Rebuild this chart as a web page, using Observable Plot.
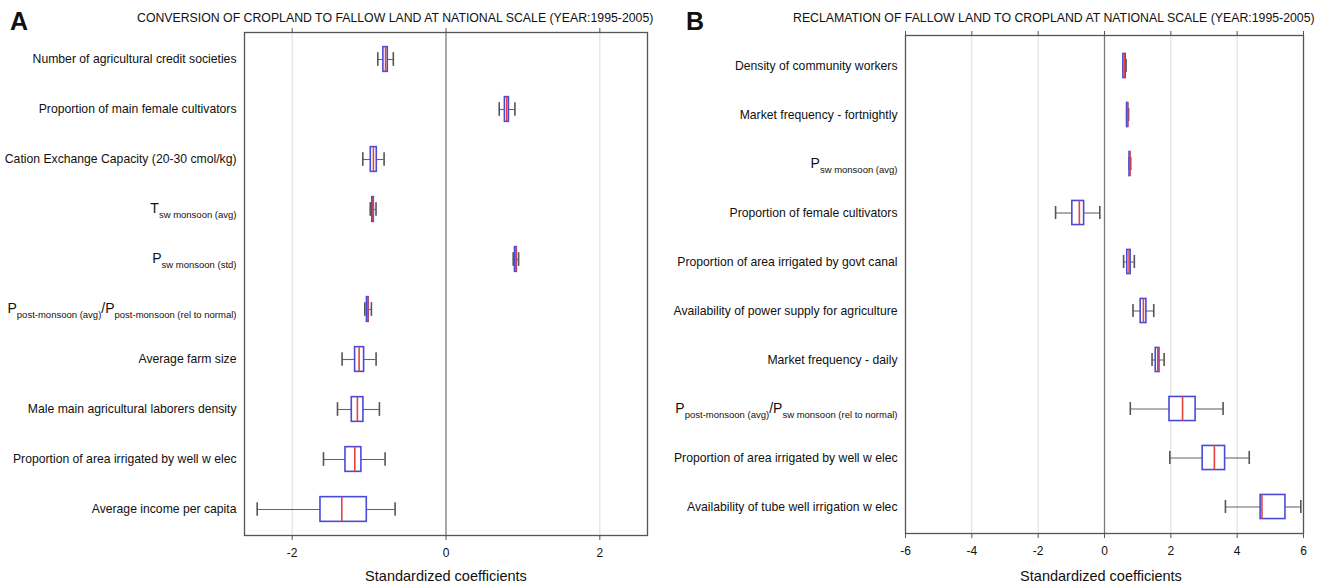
<!DOCTYPE html>
<html>
<head>
<meta charset="utf-8">
<script src="https://cdn.jsdelivr.net/npm/d3@7"></script>
<script src="https://cdn.jsdelivr.net/npm/@observablehq/plot@0.6"></script>
<style>
  html, body { margin: 0; padding: 0; background: #fff; }
  #wrap { position: relative; width: 1320px; height: 588px; font-family: "Liberation Sans", Arial, sans-serif; color: #111; overflow: hidden; }
  .panel { position: absolute; top: 0; }
  .letter { position: absolute; font-weight: bold; font-size: 25px; line-height: 1; }
  .title { position: absolute; font-size: 12.3px; line-height: 1; white-space: nowrap; }
  .xlab { position: absolute; font-size: 14.5px; line-height: 1; white-space: nowrap; transform: translateX(-50%); }
</style>
</head>
<body>
<div id="wrap"></div>
<script>
// ---------- Panel A data ----------
const rowsA = [
  "Number of agricultural credit societies",
  "Proportion of main female cultivators",
  "Cation Exchange Capacity (20-30 cmol/kg)",
  "T_{sw monsoon (avg)}",
  "P_{sw monsoon (std)}",
  "P_{post-monsoon (avg)}/P_{post-monsoon (rel to normal)}",
  "Average farm size",
  "Male main agricultural laborers density",
  "Proportion of area irrigated by well w elec",
  "Average income per capita"
];
const loA  = [-0.887, 0.692, -1.082, -0.985, 0.874, -1.056, -1.351, -1.411, -1.593, -2.455];
const q1A  = [-0.814, 0.766, -0.978, -0.958, 0.897, -1.028, -1.182, -1.225, -1.307, -1.632];
const medA = [-0.786, 0.790, -0.944, -0.948, 0.909, -1.017, -1.130, -1.152, -1.186, -1.355];
const q3A  = [-0.757, 0.818, -0.900, -0.938, 0.921, -1.006, -1.065, -1.074, -1.100, -1.030];
const hiA  = [-0.685, 0.896, -0.805, -0.910, 0.944, -0.970, -0.909, -0.866, -0.792, -0.662];
const ticksA = [-2, 0, 2];

// ---------- Panel B data ----------
const rowsB = [
  "Density of community workers",
  "Market frequency - fortnightly",
  "P_{sw monsoon (avg)}",
  "Proportion of female cultivators",
  "Proportion of area irrigated by govt canal",
  "Availability of power supply for agriculture",
  "Market frequency - daily",
  "P_{post-monsoon (avg)}/P_{sw monsoon (rel to normal)}",
  "Proportion of area irrigated by well w elec",
  "Availability of tube well irrigation w elec"
];
const loB  = [0.56, 0.67, 0.745, -1.475, 0.576, 0.859, 1.434, 0.778, 1.970, 3.646];
const q1B  = [0.57, 0.68, 0.755, -0.970, 0.687, 1.091, 1.545, 1.960, 2.960, 4.707];
const medB = [0.60, 0.70, 0.767, -0.758, 0.740, 1.172, 1.606, 2.354, 3.313, 4.747];
const q3B  = [0.64, 0.715, 0.78, -0.615, 0.788, 1.263, 1.657, 2.747, 3.636, 5.455];
const hiB  = [0.65, 0.725, 0.79, -0.141, 0.899, 1.485, 1.798, 3.576, 4.364, 5.919];
const ticksB = [-6, -4, -2, 0, 2, 4, 6];

const titleA = "CONVERSION OF CROPLAND TO FALLOW LAND AT NATIONAL SCALE (YEAR:1995-2005)";
const titleB = "RECLAMATION OF FALLOW LAND TO CROPLAND AT NATIONAL SCALE (YEAR:1995-2005)";
const xLabel = "Standardized coefficients";

function table(rows, lo, q1, med, q3, hi) {
  return rows.map((label, i) => ({label, lo: lo[i], q1: q1[i], med: med[i], q3: q3[i], hi: hi[i]}));
}

function applySubscripts(svg) {
  d3.select(svg).selectAll('g[aria-label="y-axis tick label"] text').each(function () {
    const raw = this.textContent;
    if (!raw.includes("_{")) return;
    const parts = [];
    const re = /([^_]*)_\{([^}]*)\}/g;
    let m, last = 0;
    while ((m = re.exec(raw))) {
      if (m[1]) parts.push({t: m[1], sub: false});
      parts.push({t: m[2], sub: true});
      last = re.lastIndex;
    }
    if (last < raw.length) parts.push({t: raw.slice(last), sub: false});
    const el = d3.select(this);
    el.text(null);
    let shifted = false;
    for (const p of parts) {
      const ts = el.append("tspan").text(p.t);
      if (p.sub) {
        ts.attr("font-size", "9.5px");
        if (!shifted) { ts.attr("dy", "5"); shifted = true; }
      } else {
        ts.attr("font-size", "14px");
        if (shifted) { ts.attr("dy", "-5"); shifted = false; }
      }
    }
  });
}

function panel(data, rows, domain, ticks, opts) {
  const yRange = opts.yRange || [opts.marginTop, opts.height - opts.marginBottom];
  const bandH = (yRange[1] - yRange[0]) / rows.length;
  const boxInset = (bandH - 25) / 2;
  const capInset = (bandH - 14) / 2;
  const svg = Plot.plot({
    width: opts.width,
    height: opts.height,
    marginLeft: opts.marginLeft,
    marginRight: opts.marginRight,
    marginTop: opts.marginTop,
    marginBottom: opts.marginBottom,
    style: {fontFamily: '"Liberation Sans", Arial, sans-serif', fontSize: "12px", color: "#111", background: "white"},
    x: {domain, label: null},
    y: {domain: rows, type: "band", padding: 0, range: yRange, label: null},
    marks: [
      Plot.ruleX(ticks.filter(d => d !== 0), {stroke: "#dcdcdc", strokeWidth: 1}),
      Plot.ruleX([0], {stroke: "#7a7a7a", strokeWidth: 1.3}),
      Plot.frame({stroke: "#555", strokeWidth: 1.3}),
      Plot.axisX({anchor: "bottom", ticks, tickSize: 5, tickPadding: 8, tickFormat: d => String(d), fontSize: 12, label: null, stroke: "#555"}),
      Plot.axisX({anchor: "top", ticks, tickSize: 5, tickFormat: () => "", label: null, stroke: "#555"}),
      Plot.axisY({tickSize: 0, tickPadding: 8, fontSize: 12.2, label: null}),
      Plot.ruleY(data, {y: "label", x1: "lo", x2: "q1", stroke: "#666", strokeWidth: 1.1}),
      Plot.ruleY(data, {y: "label", x1: "q3", x2: "hi", stroke: "#666", strokeWidth: 1.1}),
      Plot.tickX(data, {x: "lo", y: "label", stroke: "#555", strokeWidth: 1.6, insetTop: capInset, insetBottom: capInset}),
      Plot.tickX(data, {x: "hi", y: "label", stroke: "#555", strokeWidth: 1.6, insetTop: capInset, insetBottom: capInset}),
      Plot.barX(data, {y: "label", x1: "q1", x2: "q3", fill: "white", stroke: "#4a4ad8", strokeWidth: 1.6, insetTop: boxInset, insetBottom: boxInset}),
      Plot.tickX(data, {x: "med", y: "label", stroke: "#e5433c", strokeWidth: 1.6, insetTop: boxInset, insetBottom: boxInset})
    ]
  });
  applySubscripts(svg);
  return svg;
}

const wrap = document.getElementById("wrap");

function add(cls, style, text) {
  const d = document.createElement("div");
  d.className = cls;
  Object.assign(d.style, style);
  d.textContent = text;
  wrap.appendChild(d);
  return d;
}

// Panel A
const svgA = panel(table(rowsA, loA, q1A, medA, q3A, hiA), rowsA, [-2.62, 2.62], ticksA,
  {width: 660, height: 588, marginLeft: 244, marginRight: 13, marginTop: 32, marginBottom: 53});
const divA = document.createElement("div");
divA.className = "panel"; divA.style.left = "0px";
divA.appendChild(svgA); wrap.appendChild(divA);

// Panel B
const svgB = panel(table(rowsB, loB, q1B, medB, q3B, hiB), rowsB, [-6, 6], ticksB,
  {width: 665, height: 588, marginLeft: 250, marginRight: 17, marginTop: 35, marginBottom: 55, yRange: [36, 535]});
const divB = document.createElement("div");
divB.className = "panel"; divB.style.left = "655px";
divB.appendChild(svgB); wrap.appendChild(divB);

// Titles, letters, axis labels
add("letter", {left: "10px", top: "9px"}, "A");
add("letter", {left: "686px", top: "9px"}, "B");
add("title", {left: "137px", top: "12px"}, titleA);
add("title", {left: "793px", top: "12px"}, titleB);
add("xlab", {left: "446px", top: "569px"}, xLabel);
add("xlab", {left: "1101px", top: "569px"}, xLabel);
</script>
</body>
</html>
